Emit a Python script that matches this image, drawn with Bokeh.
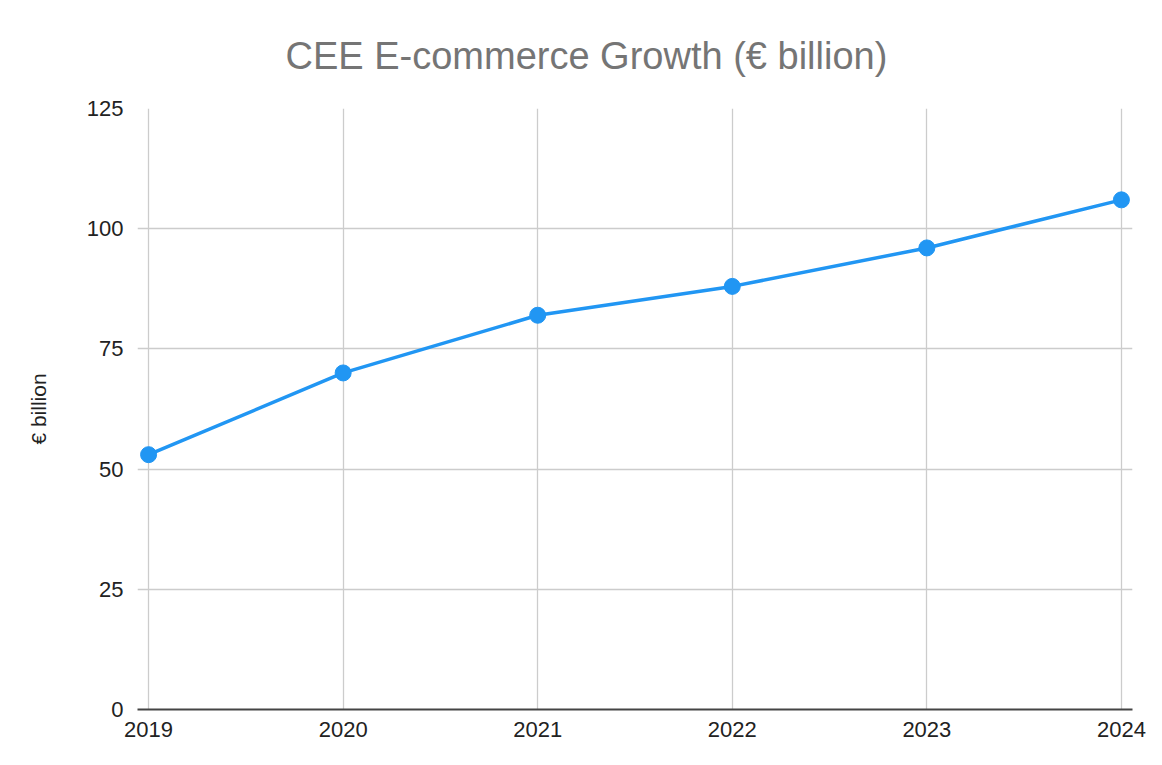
from bokeh.plotting import figure
from bokeh.models import Range1d, FixedTicker
from bokeh.embed import file_html
from bokeh.resources import INLINE

years = [2019, 2020, 2021, 2022, 2023, 2024]
values = [53, 70, 82, 88, 96, 106]
y_ticks = [0, 25, 50, 75, 100, 125]
title_text = "CEE E-commerce Growth (€ billion)"
y_label = "€ billion"

FONT = "Liberation Sans"

p = figure(width=1146, height=749, output_backend="svg", toolbar_location=None,
           x_range=Range1d(2018.943, 2024.057), y_range=Range1d(0, 125),
           min_border_left=137, min_border_right=14, min_border_top=108,
           min_border_bottom=40, title=title_text)
p.outline_line_color = None
p.background_fill_color = "white"
p.border_fill_color = "white"

p.title.text_font = FONT
p.title.text_font_size = "38px"
p.title.text_font_style = "normal"
p.title.text_color = "#757575"
p.title.align = "left"
p.title.vertical_align = "top"
p.title.offset = 148
p.title.standoff = 60

p.xaxis.ticker = FixedTicker(ticks=years)
p.yaxis.ticker = FixedTicker(ticks=y_ticks)
p.xgrid.ticker = FixedTicker(ticks=years)
p.ygrid.ticker = FixedTicker(ticks=y_ticks)
p.xgrid.grid_line_color = "#cccccc"
p.ygrid.grid_line_color = "#cccccc"
p.xgrid.grid_line_width = 1.3
p.ygrid.grid_line_width = 1.3

for ax in (p.xaxis, p.yaxis):
    ax.major_label_text_font = FONT
    ax.major_label_text_font_size = "22px"
    ax.major_label_text_color = "#222222"
    ax.major_tick_line_color = None
    ax.minor_tick_line_color = None
    ax.major_tick_out = 0
    ax.major_tick_in = 0

p.xaxis.axis_line_color = "#444444"
p.xaxis.axis_line_width = 2
p.xaxis.major_label_standoff = 12
p.yaxis.axis_line_color = None
p.yaxis.major_label_standoff = 14

p.yaxis.axis_label = y_label
p.yaxis.axis_label_text_font = FONT
p.yaxis.axis_label_text_font_size = "21px"
p.yaxis.axis_label_text_font_style = "normal"
p.yaxis.axis_label_text_color = "#222222"
p.yaxis.axis_label_standoff = 34

p.line(years, values, line_color="#2196F3", line_width=3.5)
p.scatter(years, values, size=16, fill_color="#2196F3", line_color="#2196F3")

open("out.html", "w").write(file_html(p, INLINE))
